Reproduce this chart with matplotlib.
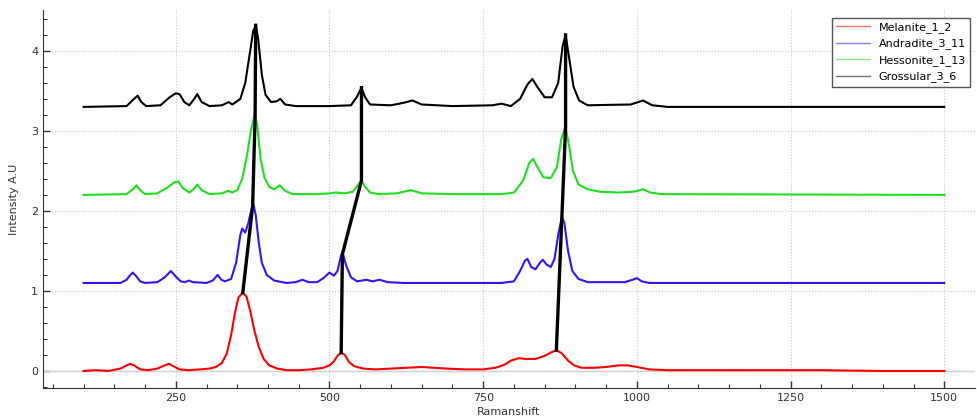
import matplotlib
matplotlib.use("Agg")
import matplotlib.pyplot as plt

# spectra (Raman shift, intensity)
mel_x = [100, 120, 140, 160, 170, 176, 182, 192, 205, 220, 232, 239, 246, 256, 270, 290, 305, 315,
         325, 333, 340, 346, 352, 359, 365, 371, 378, 385, 393, 402, 415, 430, 450, 470, 490, 500,
         507, 513, 519, 525, 532, 540, 555, 575, 600, 625, 650, 670, 690, 720, 750, 770, 785, 795,
         808, 820, 835, 850, 860, 869, 878, 888, 898, 910, 930, 950, 970, 985, 1000, 1020, 1050,
         1100, 1200, 1300, 1400, 1500]
mel_y = [0.00, 0.01, 0.00, 0.03, 0.07, 0.09, 0.07, 0.02, 0.01, 0.03, 0.07, 0.09, 0.06, 0.02, 0.01,
         0.02, 0.03, 0.05, 0.10, 0.22, 0.45, 0.72, 0.92, 0.98, 0.93, 0.75, 0.50, 0.30, 0.15, 0.07,
         0.03, 0.01, 0.01, 0.02, 0.04, 0.07, 0.12, 0.19, 0.23, 0.20, 0.11, 0.06, 0.03, 0.02, 0.03,
         0.04, 0.05, 0.04, 0.03, 0.02, 0.02, 0.04, 0.08, 0.13, 0.16, 0.15, 0.15, 0.19, 0.23, 0.26,
         0.22, 0.13, 0.07, 0.04, 0.04, 0.05, 0.07, 0.07, 0.05, 0.02, 0.01, 0.01, 0.01, 0.01, 0.00,
         0.00]

and_x = [100, 160, 170, 176, 180, 185, 192, 200, 220, 232, 242, 250, 258, 265, 271, 278, 300, 310,
         318, 324, 330, 340, 348, 355, 358, 363, 368, 373, 376, 380, 385, 390, 398, 410, 430, 445,
         456, 466, 480, 490, 500, 507, 513, 519, 522, 527, 535, 545, 560, 570, 581, 595, 620, 780,
         800, 810, 818, 822, 828, 835, 842, 847, 853, 860, 866, 872, 878, 882, 888, 895, 905, 920,
         980, 993, 1000, 1008, 1020, 1500]
and_y = [1.10, 1.10, 1.14, 1.20, 1.23, 1.19, 1.12, 1.10, 1.11, 1.17, 1.25, 1.18, 1.12, 1.11, 1.13,
         1.11, 1.10, 1.13, 1.20, 1.14, 1.12, 1.15, 1.35, 1.70, 1.78, 1.73, 1.85, 2.02, 2.09, 1.95,
         1.60, 1.35, 1.20, 1.13, 1.10, 1.11, 1.14, 1.11, 1.11, 1.16, 1.23, 1.19, 1.25, 1.45, 1.46,
         1.32, 1.17, 1.12, 1.14, 1.12, 1.14, 1.11, 1.10, 1.10, 1.12, 1.25, 1.38, 1.40, 1.30, 1.27,
         1.35, 1.39, 1.33, 1.30, 1.40, 1.70, 1.93, 1.85, 1.50, 1.25, 1.15, 1.11, 1.11, 1.14, 1.16,
         1.12, 1.10, 1.10]

hes_x = [100, 170, 180, 186, 192, 200, 220, 238, 248, 254, 262, 272, 280, 285, 292, 305, 325, 335,
         342, 350, 358, 366, 372, 378, 382, 388, 394, 402, 410, 419, 428, 440, 480, 500, 510, 525,
         538, 546, 552, 558, 566, 580, 610, 632, 650, 700, 780, 800, 815, 825, 831, 838, 848, 860,
         870, 877, 884, 890, 896, 905, 920, 940, 970, 995, 1010, 1022, 1040, 1500]
hes_y = [2.20, 2.21, 2.27, 2.32, 2.26, 2.21, 2.22, 2.30, 2.36, 2.37, 2.28, 2.23, 2.28, 2.33, 2.26,
         2.21, 2.22, 2.25, 2.23, 2.26, 2.40, 2.70, 3.00, 3.19, 3.10, 2.65, 2.42, 2.30, 2.27, 2.32,
         2.25, 2.21, 2.21, 2.22, 2.23, 2.22, 2.24, 2.32, 2.38, 2.30, 2.23, 2.21, 2.22, 2.26, 2.22,
         2.21, 2.21, 2.23, 2.38, 2.60, 2.65, 2.55, 2.42, 2.41, 2.55, 2.90, 3.05, 2.80, 2.50, 2.33,
         2.27, 2.24, 2.23, 2.24, 2.27, 2.23, 2.21, 2.20]

gro_x = [100, 170, 182, 188, 194, 202, 225, 240, 250, 256, 264, 272, 280, 285, 292, 305, 325, 336,
         342, 355, 363, 370, 376, 380, 384, 390, 396, 405, 414, 420, 428, 445, 500, 535, 545, 552,
         558, 566, 600, 620, 635, 650, 700, 765, 780, 795, 810, 822, 830, 838, 850, 862, 872, 879,
         884, 890, 897, 906, 920, 990, 1010, 1025, 1050, 1500]
gro_y = [3.30, 3.31, 3.40, 3.44, 3.36, 3.31, 3.32, 3.42, 3.47, 3.46, 3.36, 3.32, 3.40, 3.46, 3.36,
         3.31, 3.32, 3.36, 3.33, 3.40, 3.60, 3.95, 4.25, 4.32, 4.15, 3.70, 3.45, 3.36, 3.37, 3.40,
         3.33, 3.31, 3.31, 3.32, 3.43, 3.54, 3.42, 3.33, 3.32, 3.35, 3.38, 3.33, 3.31, 3.32, 3.34,
         3.31, 3.40, 3.58, 3.65, 3.55, 3.42, 3.42, 3.60, 4.05, 4.20, 3.90, 3.55, 3.38, 3.32, 3.33,
         3.38, 3.32, 3.30, 3.30]

# black lines joining the peak tops
link1_x = [359, 375, 379, 380]
link1_y = [0.98, 2.06, 3.19, 4.32]
link2_x = [519, 521, 552, 552]
link2_y = [0.23, 1.46, 2.38, 3.54]
link3_x = [869, 878, 884, 884]
link3_y = [0.26, 1.93, 3.05, 4.20]

fig = plt.figure(figsize=(9.77, 4.19), dpi=100)
ax = fig.add_axes([0.044, 0.074, 0.954, 0.902])

ax.axhline(0, color="#d0d0d0", lw=1, zorder=1)
ax.plot(mel_x, mel_y, color="#ff0000", lw=1.5, label="Melanite_1_2", zorder=3)
ax.plot(and_x, and_y, color="#3a10ff", lw=1.5, label="Andradite_3_11", zorder=3)
ax.plot(hes_x, hes_y, color="#1ee01e", lw=1.5, label="Hessonite_1_13", zorder=3)
ax.plot(gro_x, gro_y, color="#000000", lw=1.5, label="Grossular_3_6", zorder=3)
for lx, ly in [(link1_x, link1_y), (link2_x, link2_y), (link3_x, link3_y)]:
    ax.plot(lx, ly, color="black", lw=2.4, zorder=4)

ax.set_xlim(34, 1550)
ax.set_ylim(-0.2125, 4.51)
ax.set_xticks([250, 500, 750, 1000, 1250, 1500])
ax.set_xticks(range(50, 1550, 50), minor=True)
ax.set_yticks([0, 1, 2, 3, 4])
ax.set_yticks([i * 0.2 for i in range(-1, 23)], minor=True)
ax.tick_params(direction="in", length=5, width=1, labelsize=8, colors="#333333")
ax.tick_params(which="minor", direction="in", length=3, width=0.8, colors="#333333")
ax.grid(True, which="major", color="#c8c8c8", linestyle=":", linewidth=0.8)
ax.set_axisbelow(True)
for s in ["top", "right"]:
    ax.spines[s].set_visible(False)
for s in ["left", "bottom"]:
    ax.spines[s].set_color("#333333")

ax.set_xlabel("Ramanshift", fontsize=8, color="#333333", labelpad=3)
ax.set_ylabel("Intensity A.U", fontsize=8, color="#333333", labelpad=9)

leg = ax.legend(loc="upper right", bbox_to_anchor=(0.995, 0.98), fontsize=8, fancybox=False,
                framealpha=1, edgecolor="#555555", borderaxespad=0, handlelength=3)
for h in leg.get_lines():
    h.set_linewidth(1.0)
    h.set_alpha(0.55)

fig.savefig("out.png", dpi=100)
